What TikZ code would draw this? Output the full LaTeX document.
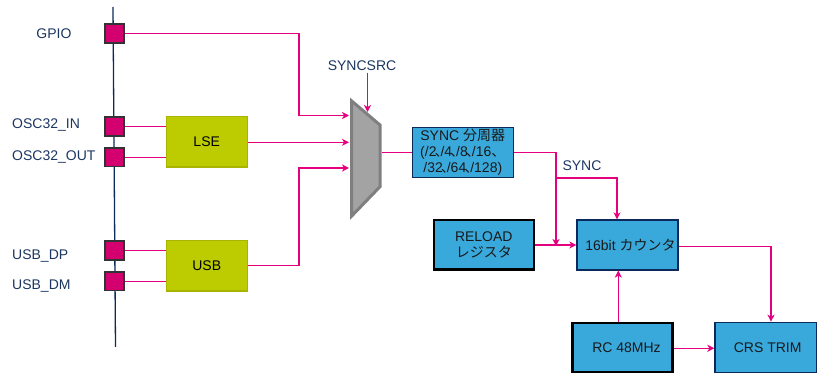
\documentclass[tikz,border=0pt]{standalone}
\usepackage{fontspec}
\setmainfont{Liberation Sans}
\newfontfamily\jp{Noto Sans CJK JP}
\usetikzlibrary{arrows.meta}
\definecolor{pinkline}{HTML}{E5007D}
\definecolor{padfill}{HTML}{D4006F}
\definecolor{lime}{HTML}{BDCC00}
\definecolor{limeborder}{HTML}{A8B400}
\definecolor{stblue}{HTML}{39A9DC}
\definecolor{navy}{HTML}{0B2A5B}
\definecolor{txtnavy}{HTML}{1C3661}
\definecolor{muxfill}{HTML}{A3A3A3}
\definecolor{muxborder}{HTML}{7F7F7F}
\newcommand\tcomma{\kern-1.5pt{\jp ､}\kern-1.5pt}
\begin{document}
\begin{tikzpicture}[x=1pt,y=-1pt,
  every node/.style={font=\fontsize{14}{16}\selectfont},
  pad/.style={draw=black!80, line width=1.8pt, fill=padfill, minimum width=19pt, minimum height=18.7pt, inner sep=0pt},
  limebox/.style={draw=limeborder, line width=1.2pt, fill=lime, minimum width=81pt, minimum height=50.5pt, inner sep=0pt},
  bluebox/.style={draw=navy, line width=1.2pt, fill=stblue, minimum width=101pt, minimum height=50pt, inner sep=0pt, align=center, text=black!90},
  blackbox/.style={draw=black, line width=2.2pt, fill=stblue, minimum width=100pt, minimum height=49.2pt, inner sep=0pt, align=center, text=black!90},
  lbl/.style={text=txtnavy, inner sep=0pt},
  wire/.style={draw=pinkline, line width=1.3pt},
  arr/.style={wire, -{Stealth[length=7pt, width=7pt, inset=2pt]}},
  bus/.style={draw=navy, line width=1.3pt}
]
\useasboundingbox (0,0) rectangle (823,374);

% vertical bus
\coordinate (bustop) at (113,7);
\coordinate (busbot) at (115.5,347);
\draw[bus] (bustop) -- (busbot);

% pads
\node[pad] (gpio)  at (114.5,33.7) {};
\node[pad] (oscin) at (114.5,126.3) {};
\node[pad] (oscout) at (114.5,157.2) {};
\node[pad] (usbdp) at (114.8,250.3) {};
\node[pad] (usbdm) at (114.8,281.2) {};

% pad labels
\node[lbl] (lgpio) at (54,33.7) {GPIO};
\node[lbl, anchor=west] (loscin) at (12,125.5) {OSC32\_IN};
\node[lbl, anchor=west] (loscout) at (12,157.5) {OSC32\_OUT};
\node[lbl, anchor=west] (lusbdp) at (12,256) {USB\_DP};
\node[lbl, anchor=west] (lusbdm) at (12,286) {USB\_DM};

% lime boxes
\node[limebox] (lse) at (206.7,141.8) {LSE};
\node[limebox] (usb) at (206.7,265.8) {USB};

\draw[wire] (oscin.east) -- (oscin.east -| lse.west);
\draw[wire] (oscout.east) -- (oscout.east -| lse.west);
\draw[wire] (usbdp.east) -- (usbdp.east -| usb.west);
\draw[wire] (usbdm.east) -- (usbdm.east -| usb.west);

% mux
\draw[draw=muxborder, line width=3pt, fill=muxfill, line join=miter]
  (351.7,101) -- (380,125) -- (380,186.7) -- (351.7,216) -- cycle;
\coordinate (mi1) at (349,115.5);
\coordinate (mi2) at (349,142.3);
\coordinate (mi3) at (349,168);
\coordinate (msel) at (367.5,112);
\coordinate (mo) at (381.5,152.2);
\coordinate (jx) at (299,0);

\draw[arr] (gpio.east) -- (gpio.east -| jx) |- (mi1);
\draw[arr] (lse.east |- mi2) -- (mi2);
\draw[arr] (usb.east) -- (usb.east -| jx) |- (mi3);

\node[lbl] (syncsrc) at (362,65.5) {SYNCSRC};
\draw[arr] (syncsrc.south -| msel) ++(0,2) -- (msel);

% SYNC divider
\node[bluebox] (sync) at (462.8,152.2) {SYNC {\jp 分周器}\\(/2\tcomma/4\tcomma/8\tcomma/16{\jp 、}\\/32\tcomma/64\tcomma/128)};
\draw[wire] (mo) -- (mo -| sync.west);

% lower blocks
\node[blackbox] (reload) at (483.8,245) {RELOAD\\{\jp レジスタ}};
\node[bluebox] (cnt) at (627.5,245) {\hspace*{6pt}16bit {\jp カウンタ}};
\node[blackbox] (rc) at (622.5,347.5) {\hspace*{8pt}RC 48MHz};
\node[bluebox, minimum width=101.5pt, minimum height=50.4pt] (crs) at (765.7,347.5) {\hspace*{4pt}CRS TRIM};

\coordinate (jy) at (556,0);
\coordinate (jb) at (0,178);
\coordinate (cx) at (617,0);
\coordinate (rx) at (618.3,0);
\coordinate (ox) at (771,0);

\draw[wire] (sync.east) -- (sync.east -| jy) -- (jy |- jb);
\draw[arr] (jy |- jb) -- ([yshift=-1pt]jy |- reload.east);
\draw[arr] (jy |- jb) -| (cnt.north -| cx);
\node[lbl] (synclbl) at (582,166) {SYNC};

\draw[arr] (reload.east) -- (cnt.west);
\draw[arr] ([yshift=-1.5pt]cnt.east) -| (crs.north -| ox);
\draw[arr] (rc.north -| rx) -- (cnt.south -| rx);
\draw[arr] ([yshift=-0.8pt]rc.east) -- ([yshift=-0.8pt]crs.west);
\end{tikzpicture}
\end{document}
